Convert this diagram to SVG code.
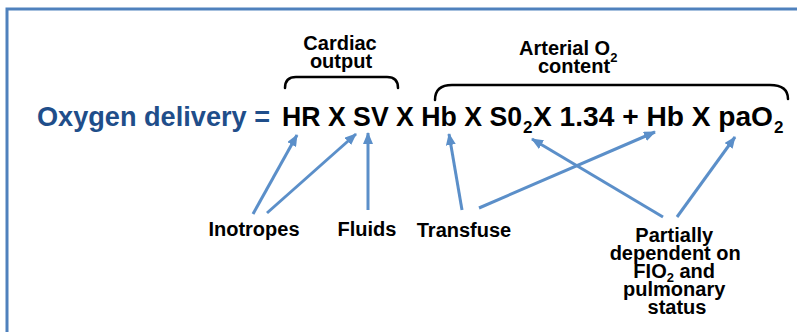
<svg xmlns="http://www.w3.org/2000/svg" width="797" height="332" viewBox="0 0 797 332">
  <defs>
    <style>
      .lbl { font-family: "Liberation Sans", Arial, sans-serif; font-weight: bold; fill: #000; }
      .eq { font-size: 28px; }
      .sub { font-size: 17px; }
      .note { font-size: 20px; }
      .brace { fill: none; stroke: #000; stroke-width: 2.5; stroke-linecap: round; }
      .arrow { stroke: #5b8fc9; stroke-width: 3; fill: none; marker-end: url(#head); }
    </style>
    <marker id="head" viewBox="0 0 12 10" refX="11" refY="5" markerWidth="12" markerHeight="10" markerUnits="userSpaceOnUse" orient="auto">
      <path d="M0,0 L12,5 L0,10 z" fill="#5b8fc9"/>
    </marker>
  </defs>

  <!-- frame -->
  <rect x="7" y="9" width="800" height="340" fill="#fff" stroke="#4f81bd" stroke-width="3"/>

  <!-- equation -->
  <g id="equation">
    <text class="lbl eq" x="37" y="126" style="fill:#1f4e8a" textLength="233" lengthAdjust="spacingAndGlyphs">Oxygen delivery =</text>
    <text class="lbl eq" x="282" y="126" textLength="240" lengthAdjust="spacingAndGlyphs">HR X SV X Hb X S0</text>
    <text class="lbl sub" x="523" y="133">2</text>
    <text class="lbl eq" x="533" y="126" textLength="240" lengthAdjust="spacingAndGlyphs">X 1.34 + Hb X paO</text>
    <text class="lbl sub" x="774" y="133">2</text>
  </g>

  <!-- braces with captions -->
  <g id="cardiac-output">
    <path class="brace" d="M285,88 Q285,77 296,77 L387,77 Q398,77 398,88"/>
    <text class="lbl note" x="340" y="50" text-anchor="middle">Cardiac</text>
    <text class="lbl note" x="341" y="68" text-anchor="middle">output</text>
  </g>
  <g id="arterial-content">
    <path class="brace" d="M435,100 Q435,85 452,85 L770,85 Q788,85 788,99"/>
    <text class="lbl note" x="519" y="55">Arterial O<tspan font-size="13" dy="7">2</tspan></text>
    <text class="lbl note" x="574" y="73" text-anchor="middle">content</text>
  </g>

  <!-- influences -->
  <g id="inotropes"><text class="lbl note" x="254" y="236" text-anchor="middle">Inotropes</text></g>
  <g id="fluids"><text class="lbl note" x="367" y="236" text-anchor="middle">Fluids</text></g>
  <g id="transfuse"><text class="lbl note" x="464" y="237" text-anchor="middle">Transfuse</text></g>
  <g id="pulmonary">
    <text class="lbl note" text-anchor="middle">
      <tspan x="677" y="242">Partially</tspan>
      <tspan x="678" y="260">dependent on</tspan>
      <tspan x="677" y="278">FIO<tspan font-size="13" dy="4">2</tspan><tspan dy="-4"> and</tspan></tspan>
      <tspan x="677" y="296">pulmonary</tspan>
      <tspan x="677" y="314">status</tspan>
    </text>
  </g>

  <!-- connectors -->
  <g id="connectors">
    <line class="arrow" x1="253" y1="214" x2="297" y2="135"/>
    <line class="arrow" x1="267" y1="213" x2="356" y2="134"/>
    <line class="arrow" x1="368" y1="210" x2="368" y2="133"/>
    <line class="arrow" x1="462" y1="210" x2="449" y2="134"/>
    <line class="arrow" x1="479" y1="208" x2="655" y2="132"/>
    <line class="arrow" x1="663" y1="217" x2="532" y2="139"/>
    <line class="arrow" x1="677" y1="217" x2="735" y2="137"/>
  </g>
</svg>
